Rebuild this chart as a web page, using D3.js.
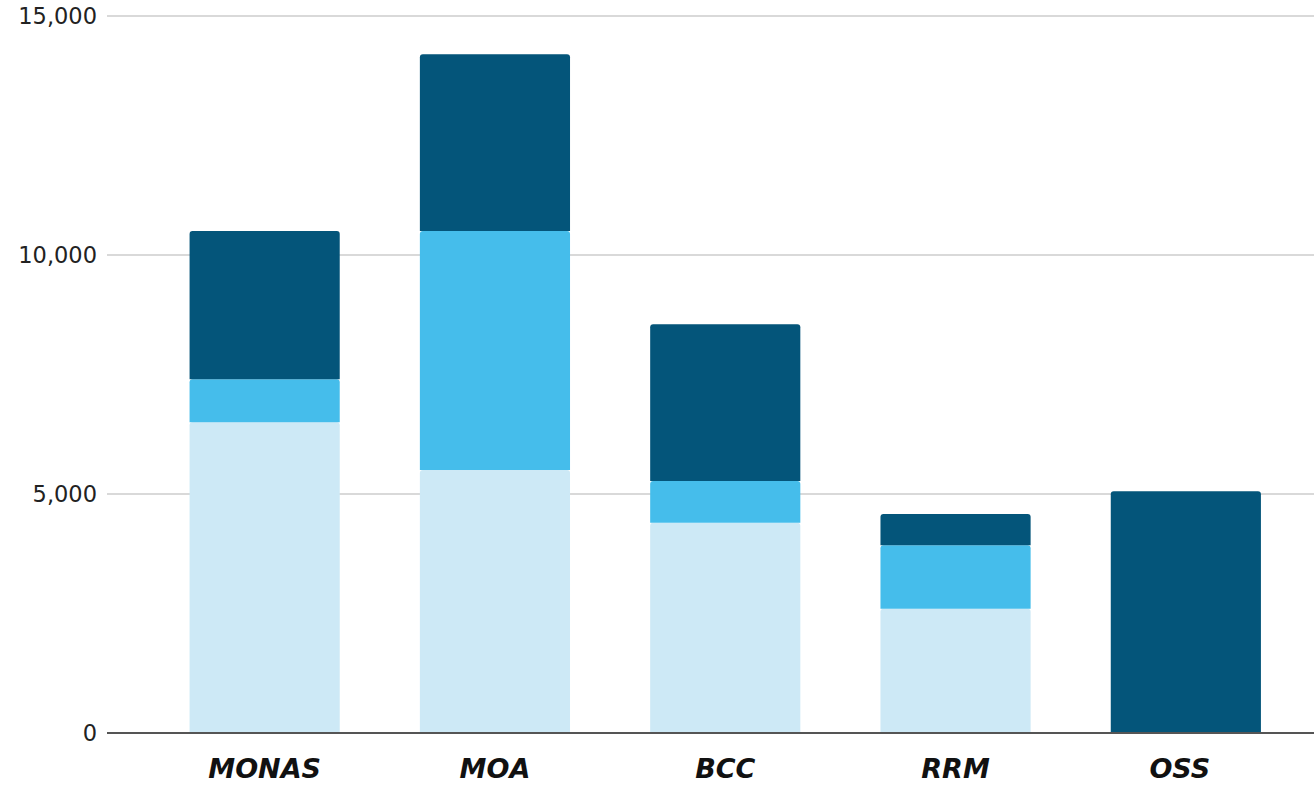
<!DOCTYPE html>
<html><head><meta charset="utf-8">
<script src="https://cdn.jsdelivr.net/npm/d3@7"></script>
<style>body{margin:0;background:#fff;}svg{display:block;}</style>
</head><body>
<svg id="chart" width="1314" height="785"></svg>
<script>
const categories = ["MONAS", "MOA", "BCC", "RRM", "OSS"];
const seriesNames = ["Light", "Mid", "Dark"];
const lightValues = [6500, 5500, 4400, 2600, 0];
const midValues = [900, 5000, 870, 1330, 0];
const darkValues = [3100, 3700, 3280, 650, 5060];
const yTicks = [0, 5000, 10000, 15000];
const colors = ["#cde9f6", "#45bdeb", "#04557a"];

const svg = d3.select("#chart");
const x = d3.scaleBand().domain(categories).range([149.5, 1301]).paddingInner(0.348).paddingOuter(0.174);
const y = d3.scaleLinear().domain([0, 15000]).range([733, 16]);

const rows = categories.map((c, i) => ({cat: c, Light: lightValues[i], Mid: midValues[i], Dark: darkValues[i]}));
const stacked = d3.stack().keys(seriesNames)(rows);

// gridlines
svg.append("g").selectAll("line").data(yTicks.filter(t => t > 0)).join("line")
  .attr("x1", 107).attr("x2", 1314)
  .attr("y1", d => y(d)).attr("y2", d => y(d))
  .attr("stroke", "#cccccc").attr("stroke-width", 1.5);

// tick labels
svg.append("g").selectAll("text").data(yTicks).join("text")
  .attr("x", 97).attr("y", d => y(d)).attr("dy", "0.36em")
  .attr("text-anchor", "end")
  .attr("font-family", "DejaVu Sans, Verdana, sans-serif")
  .attr("font-size", 22.5).attr("fill", "#222")
  .text(d => d3.format(",")(d));

function topRounded(x0, y0, w, h, r) {
  if (h <= 0) return "";
  r = Math.min(r, h, w / 2);
  return `M${x0},${y0 + h}V${y0 + r}Q${x0},${y0} ${x0 + r},${y0}H${x0 + w - r}Q${x0 + w},${y0} ${x0 + w},${y0 + r}V${y0 + h}Z`;
}

stacked.forEach((layer, li) => {
  svg.append("g").selectAll("path").data(layer).join("path")
    .attr("d", d => {
      const yt = y(d[1]), yb = y(d[0]);
      return topRounded(x(d.data.cat), yt, x.bandwidth(), yb - yt, 3);
    })
    .attr("fill", colors[li]);
});

// baseline
svg.append("line").attr("x1", 107).attr("x2", 1314)
  .attr("y1", y(0)).attr("y2", y(0))
  .attr("stroke", "#555").attr("stroke-width", 2);

// category labels
svg.append("g").selectAll("text").data(categories).join("text")
  .attr("x", d => x(d) + x.bandwidth() / 2 - (d === "OSS" ? 6 : 0))
  .attr("y", 778)
  .attr("text-anchor", "middle")
  .attr("font-family", "DejaVu Sans, Verdana, sans-serif")
  .attr("font-size", 27).attr("font-weight", "bold").attr("font-style", "italic")
  .attr("fill", "#111")
  .text(d => d);
</script>
</body></html>
